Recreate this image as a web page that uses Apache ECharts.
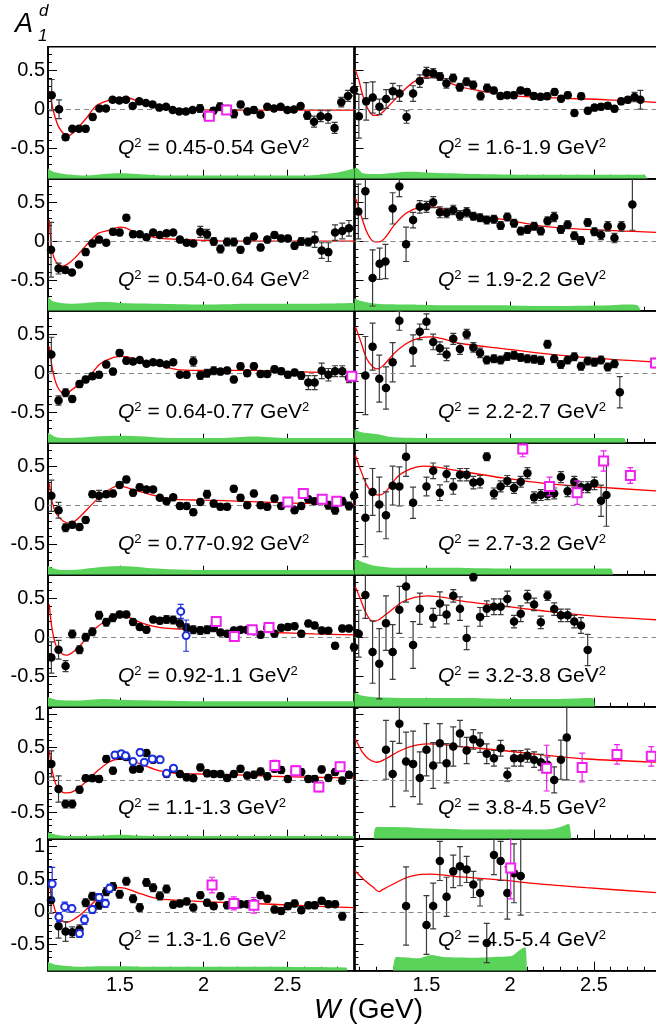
<!DOCTYPE html>
<html>
<head>
<meta charset="utf-8">
<script src="https://cdn.jsdelivr.net/npm/echarts@6/dist/echarts.min.js"></script>
<style>
html, body { margin: 0; padding: 0; background: #fff; }
#main { width: 656px; height: 1029px; }
</style>
</head>
<body>
<div id="main"></div>
<script>
// tick positions and labels
var xMinorTicks = [1.1, 1.2, 1.3, 1.4, 1.6, 1.7, 1.8, 1.9, 2.1, 2.2, 2.3, 2.4, 2.6, 2.7, 2.8];
var xMajorTicks = [1.5, 2, 2.5];
var yMinorTicksA = [-0.8, -0.7, -0.6, -0.4, -0.3, -0.2, -0.1, 0.1, 0.2, 0.3, 0.4, 0.6, 0.7];
var yMajorTicksA = [-0.5, 0, 0.5];
var yMinorTicksB = [-0.8, -0.7, -0.6, -0.4, -0.3, -0.2, -0.1, 0.1, 0.2, 0.3, 0.4, 0.6, 0.7, 0.8, 0.9, 1.1];
var yMajorTicksB = [-0.5, 0, 0.5, 1];

var q2Bins = ['0.45-0.54', '1.6-1.9', '0.54-0.64', '1.9-2.2', '0.64-0.77', '2.2-2.7', '0.77-0.92',
              '2.7-3.2', '0.92-1.1', '3.2-3.8', '1.1-1.3', '3.8-4.5', '1.3-1.6', '4.5-5.4'];

// [W, A1, error]  -- this experiment (black dots)
var dataP1 = [[1.092,0.18,0.2],[1.136,0.00,0.12],[1.175,-0.36,0.04],[1.215,-0.25,0.03],[1.255,-0.25,0.03],[1.295,-0.25,0.04],[1.337,-0.10,0.04],[1.377,0.01,0.03],[1.416,0.01,0.03],[1.456,0.12,0.03],[1.496,0.11,0.03],[1.536,0.12,0.03],[1.576,0.04,0.03],[1.615,0.10,0.03],[1.655,0.08,0.03],[1.695,0.06,0.03],[1.735,0.02,0.03],[1.775,0.03,0.03],[1.815,-0.01,0.03],[1.854,-0.03,0.03],[1.894,-0.03,0.03],[1.934,-0.01,0.03],[1.978,0.01,0.05],[2.018,-0.08,0.05],[2.058,-0.02,0.04],[2.097,0.03,0.05],[2.137,0.00,0.05],[2.181,-0.06,0.05],[2.221,0.06,0.04],[2.261,-0.03,0.04],[2.300,-0.01,0.04],[2.340,-0.07,0.03],[2.380,0.03,0.03],[2.420,0.01,0.03],[2.460,0.03,0.03],[2.500,-0.01,0.03],[2.539,-0.005,0.03],[2.579,0.04,0.03],[2.619,-0.08,0.05],[2.659,-0.16,0.07],[2.699,-0.09,0.07],[2.743,-0.10,0.08],[2.782,-0.24,0.07],[2.822,0.09,0.06],[2.862,0.17,0.07],[2.898,0.25,0.08]];
var dataP2 = [[1.096,-0.09,0.28],[1.140,0.10,0.24],[1.179,0.15,0.2],[1.219,0.03,0.1],[1.259,0.13,0.12],[1.299,0.23,0.1],[1.339,0.20,0.1],[1.381,-0.10,0.08],[1.420,0.20,0.1],[1.460,0.36,0.08],[1.500,0.465,0.07],[1.540,0.46,0.06],[1.580,0.42,0.05],[1.619,0.33,0.06],[1.659,0.40,0.05],[1.699,0.28,0.05],[1.739,0.35,0.05],[1.779,0.31,0.05],[1.823,0.17,0.05],[1.862,0.27,0.05],[1.902,0.24,0.04],[1.942,0.17,0.04],[1.982,0.18,0.04],[2.022,0.18,0.04],[2.062,0.24,0.04],[2.101,0.22,0.04],[2.141,0.17,0.04],[2.181,0.16,0.04],[2.221,0.165,0.04],[2.265,0.22,0.04],[2.304,0.135,0.04],[2.344,0.18,0.04],[2.384,-0.05,0.04],[2.424,0.165,0.04],[2.464,-0.02,0.04],[2.504,0.02,0.04],[2.543,0.03,0.04],[2.583,0.045,0.04],[2.623,0.005,0.04],[2.663,0.10,0.04],[2.703,0.12,0.04],[2.743,0.155,0.06],[2.778,0.12,0.12]];
var dataP3 = [[1.088,-0.11,0.35],[1.133,-0.35,0.07],[1.173,-0.37,0.04],[1.213,-0.40,0.03],[1.255,-0.30,0.03],[1.295,-0.14,0.04],[1.335,-0.03,0.04],[1.375,0.02,0.04],[1.418,-0.02,0.03],[1.458,0.12,0.04],[1.498,0.11,0.04],[1.538,0.30,0.04],[1.578,0.09,0.04],[1.618,0.09,0.03],[1.658,0.05,0.03],[1.698,0.11,0.03],[1.738,0.08,0.03],[1.778,0.10,0.03],[1.818,0.11,0.03],[1.858,0.02,0.03],[1.898,-0.02,0.03],[1.938,-0.03,0.03],[1.980,0.12,0.07],[2.020,0.09,0.06],[2.060,-0.005,0.05],[2.100,-0.10,0.05],[2.140,-0.01,0.05],[2.180,-0.01,0.05],[2.220,-0.11,0.04],[2.260,0.005,0.04],[2.300,0.06,0.04],[2.340,-0.08,0.04],[2.380,0.02,0.04],[2.423,0.08,0.04],[2.463,0.035,0.04],[2.503,0.035,0.04],[2.543,-0.06,0.04],[2.583,-0.005,0.05],[2.625,-0.01,0.05],[2.663,0.02,0.1],[2.705,-0.12,0.1],[2.745,-0.14,0.12],[2.785,0.11,0.1],[2.828,0.13,0.1],[2.868,0.165,0.1]];
var dataP4 = [[1.093,0.38,0.35],[1.135,0.64,0.35],[1.178,-0.47,0.36],[1.22,-0.29,0.2],[1.255,-0.26,0.22],[1.298,0.42,0.2],[1.338,0.70,0.13],[1.378,-0.04,0.22],[1.42,0.27,0.1],[1.46,0.44,0.08],[1.50,0.44,0.07],[1.54,0.50,0.07],[1.58,0.37,0.07],[1.62,0.36,0.06],[1.66,0.40,0.06],[1.70,0.33,0.06],[1.74,0.37,0.06],[1.78,0.32,0.05],[1.82,0.30,0.05],[1.86,0.27,0.05],[1.903,0.28,0.05],[1.943,0.20,0.05],[1.983,0.31,0.05],[2.023,0.23,0.05],[2.063,0.13,0.05],[2.103,0.15,0.05],[2.143,0.19,0.05],[2.183,0.13,0.05],[2.223,0.26,0.05],[2.263,0.31,0.06],[2.303,0.15,0.05],[2.343,0.21,0.05],[2.383,0.07,0.05],[2.423,0.01,0.05],[2.463,0.24,0.05],[2.503,0.12,0.05],[2.543,0.08,0.06],[2.583,0.19,0.06],[2.623,0.04,0.06],[2.665,0.19,0.06],[2.73,0.47,0.33]];
var dataP5 = [[1.09,0.24,0.22],[1.133,-0.35,0.06],[1.175,-0.25,0.05],[1.215,-0.33,0.04],[1.258,-0.14,0.04],[1.295,-0.08,0.04],[1.335,-0.04,0.04],[1.375,-0.02,0.04],[1.418,0.11,0.04],[1.458,0.02,0.04],[1.498,0.26,0.04],[1.538,0.16,0.04],[1.578,0.15,0.03],[1.618,0.17,0.03],[1.658,0.12,0.03],[1.698,0.14,0.03],[1.738,0.13,0.03],[1.778,0.11,0.03],[1.818,0.14,0.03],[1.858,-0.02,0.03],[1.898,-0.02,0.04],[1.938,0.15,0.06],[1.98,-0.03,0.05],[2.02,0.0,0.05],[2.06,0.03,0.05],[2.10,0.02,0.04],[2.14,0.035,0.04],[2.18,-0.08,0.04],[2.22,0.09,0.04],[2.26,0.0,0.04],[2.30,0.09,0.04],[2.34,-0.01,0.04],[2.38,-0.01,0.04],[2.423,0.05,0.04],[2.463,0.025,0.04],[2.503,-0.02,0.04],[2.543,0.01,0.04],[2.583,-0.03,0.05],[2.625,-0.12,0.09],[2.663,-0.12,0.09],[2.705,0.03,0.1],[2.745,-0.02,0.08],[2.785,0.025,0.07],[2.828,0.025,0.07],[2.868,-0.06,0.06]];
var dataP6 = [[1.135,-0.03,0.5],[1.178,0.34,0.3],[1.218,-0.07,0.3],[1.258,-0.19,0.27],[1.298,0.14,0.25],[1.338,0.67,0.12],[1.42,0.29,0.2],[1.46,0.53,0.1],[1.50,0.66,0.1],[1.54,0.40,0.1],[1.58,0.32,0.08],[1.62,0.24,0.08],[1.66,0.44,0.07],[1.70,0.31,0.07],[1.74,0.50,0.06],[1.78,0.33,0.06],[1.82,0.26,0.06],[1.86,0.17,0.05],[1.903,0.185,0.05],[1.943,0.17,0.05],[1.983,0.215,0.05],[2.023,0.23,0.05],[2.063,0.20,0.05],[2.103,0.185,0.05],[2.143,0.177,0.05],[2.183,0.164,0.05],[2.223,0.37,0.05],[2.263,0.185,0.05],[2.303,0.11,0.05],[2.343,0.17,0.05],[2.383,0.21,0.05],[2.423,0.09,0.05],[2.463,0.155,0.05],[2.503,0.14,0.05],[2.543,0.17,0.05],[2.583,0.08,0.05],[2.623,0.12,0.05],[2.655,-0.245,0.2]];
var dataP7 = [[1.09,0.12,0.2],[1.133,-0.065,0.1],[1.175,-0.29,0.05],[1.215,-0.25,0.04],[1.258,-0.28,0.04],[1.295,-0.19,0.04],[1.335,0.14,0.04],[1.375,0.12,0.07],[1.418,0.14,0.04],[1.458,0.15,0.04],[1.498,0.26,0.04],[1.538,0.33,0.04],[1.578,0.16,0.04],[1.618,0.23,0.04],[1.658,0.20,0.03],[1.698,0.20,0.03],[1.738,0.095,0.03],[1.778,0.05,0.03],[1.818,0.10,0.03],[1.858,-0.01,0.04],[1.898,-0.01,0.04],[1.938,-0.09,0.04],[1.98,0.04,0.04],[2.02,0.14,0.05],[2.06,0.02,0.04],[2.10,-0.02,0.04],[2.14,-0.02,0.04],[2.18,0.21,0.04],[2.22,0.095,0.04],[2.26,0.0,0.04],[2.30,0.15,0.04],[2.34,0.0,0.04],[2.38,-0.02,0.04],[2.423,0.085,0.04],[2.463,-0.01,0.04],[2.503,0.04,0.04],[2.543,-0.065,0.04],[2.583,-0.01,0.04],[2.625,0.075,0.04],[2.663,0.05,0.04],[2.705,0.075,0.04],[2.745,0.0,0.05],[2.785,-0.065,0.05],[2.828,0.05,0.05],[2.868,-0.01,0.05],[2.898,0.12,0.05]];
var dataP8 = [[1.135,-0.16,0.5],[1.178,0.17,0.3],[1.218,0.01,0.35],[1.258,-0.13,0.3],[1.298,0.25,0.25],[1.338,0.24,0.25],[1.378,0.62,0.25],[1.42,0.03,0.2],[1.50,0.24,0.12],[1.54,0.44,0.1],[1.58,0.16,0.1],[1.62,0.40,0.1],[1.66,0.24,0.1],[1.70,0.39,0.08],[1.74,0.39,0.08],[1.78,0.29,0.08],[1.82,0.30,0.08],[1.86,0.62,0.05],[1.903,0.15,0.07],[1.943,0.24,0.07],[1.983,0.31,0.07],[2.023,0.22,0.07],[2.063,0.30,0.07],[2.103,0.41,0.07],[2.143,0.10,0.07],[2.183,0.13,0.07],[2.223,0.14,0.07],[2.263,0.15,0.07],[2.303,0.36,0.07],[2.343,0.18,0.07],[2.383,0.30,0.07],[2.423,0.23,0.07],[2.463,0.23,0.07],[2.503,0.28,0.08],[2.543,0.056,0.2],[2.575,0.13,0.4]];
var dataP9 = [[1.09,-0.26,0.2],[1.133,-0.16,0.12],[1.175,-0.37,0.07],[1.215,0.04,0.05],[1.258,-0.16,0.05],[1.295,0.0,0.05],[1.335,0.07,0.05],[1.375,0.28,0.05],[1.418,0.19,0.05],[1.458,0.25,0.05],[1.498,0.29,0.04],[1.538,0.29,0.04],[1.578,0.195,0.04],[1.618,0.13,0.04],[1.658,0.095,0.04],[1.698,0.225,0.04],[1.738,0.21,0.04],[1.778,0.225,0.05],[1.818,0.22,0.05],[1.858,0.175,0.06],[1.898,0.12,0.05],[1.938,0.095,0.05],[1.98,0.087,0.05],[2.02,0.095,0.05],[2.06,0.12,0.05],[2.10,0.06,0.04],[2.14,0.045,0.04],[2.18,0.087,0.04],[2.22,0.095,0.04],[2.26,0.095,0.04],[2.30,0.075,0.04],[2.34,0.03,0.04],[2.38,0.12,0.04],[2.423,0.045,0.04],[2.463,0.12,0.04],[2.503,0.13,0.04],[2.543,0.14,0.04],[2.583,0.045,0.04],[2.625,0.175,0.04],[2.663,0.15,0.04],[2.705,0.087,0.04],[2.745,0.083,0.04],[2.785,-0.11,0.04],[2.828,0.11,0.04],[2.868,0.11,0.04],[2.898,-0.13,0.05]];
var dataP10 = [[1.095,0.045,0.3],[1.135,0.54,0.3],[1.178,-0.19,0.4],[1.218,-0.34,0.45],[1.258,0.18,0.35],[1.298,-0.19,0.35],[1.338,0.35,0.3],[1.378,0.65,0.2],[1.42,-0.10,0.3],[1.46,0.365,0.2],[1.54,0.25,0.12],[1.58,0.43,0.15],[1.62,0.29,0.12],[1.66,0.53,0.08],[1.70,0.365,0.15],[1.74,-0.01,0.15],[1.78,0.77,0.05],[1.82,0.26,0.12],[1.86,0.365,0.1],[1.903,0.39,0.1],[1.943,0.39,0.1],[1.983,0.49,0.1],[2.023,0.20,0.08],[2.063,0.30,0.1],[2.103,0.52,0.08],[2.143,0.42,0.08],[2.183,0.19,0.08],[2.223,0.53,0.06],[2.263,0.36,0.08],[2.303,0.28,0.08],[2.343,0.28,0.08],[2.383,0.20,0.08],[2.423,0.15,0.1],[2.463,-0.165,0.2]];
var dataP11 = [[1.09,0.245,0.2],[1.133,-0.14,0.2],[1.175,-0.37,0.06],[1.215,-0.37,0.06],[1.258,-0.15,0.05],[1.295,0.025,0.05],[1.335,0.025,0.05],[1.375,0.015,0.05],[1.418,0.32,0.05],[1.458,0.14,0.05],[1.498,0.37,0.05],[1.538,0.35,0.05],[1.578,0.16,0.05],[1.618,0.17,0.05],[1.658,0.41,0.05],[1.698,0.31,0.05],[1.738,0.31,0.05],[1.778,0.09,0.05],[1.818,0.17,0.05],[1.858,0.09,0.05],[1.898,0.04,0.05],[1.938,0.025,0.05],[1.98,0.19,0.05],[2.02,0.10,0.05],[2.06,0.09,0.05],[2.10,0.09,0.05],[2.14,0.03,0.05],[2.18,0.09,0.05],[2.22,0.17,0.05],[2.26,0.066,0.05],[2.30,0.08,0.05],[2.34,0.13,0.05],[2.38,0.056,0.05],[2.423,0.17,0.05],[2.463,0.15,0.05],[2.503,0.015,0.05],[2.543,0.13,0.05],[2.583,0.12,0.05],[2.625,0.015,0.05],[2.663,0.015,0.05],[2.705,0.16,0.05],[2.745,0.03,0.05],[2.785,0.12,0.05],[2.828,-0.01,0.05],[2.868,0.077,0.05]];
var dataP12 = [[1.258,0.46,0.45],[1.298,0.09,0.5],[1.338,0.86,0.3],[1.378,0.28,0.45],[1.42,0.245,0.5],[1.46,0.03,0.4],[1.50,0.46,0.4],[1.54,0.22,0.35],[1.58,0.56,0.3],[1.62,0.255,0.3],[1.66,0.51,0.3],[1.70,0.71,0.2],[1.74,0.45,0.2],[1.78,0.62,0.15],[1.82,0.57,0.15],[1.86,0.40,0.15],[1.903,0.33,0.12],[1.943,0.485,0.12],[1.983,0.08,0.1],[2.023,0.33,0.12],[2.063,0.33,0.12],[2.103,0.37,0.1],[2.143,0.31,0.12],[2.183,0.27,0.12],[2.223,0.23,0.12],[2.263,0.0,0.2],[2.303,0.31,0.3],[2.338,0.65,0.65]];
var dataP13 = [[1.088,0.18,0.2],[1.133,-0.22,0.18],[1.175,-0.30,0.15],[1.215,-0.31,0.08],[1.258,-0.27,0.07],[1.295,0.14,0.06],[1.335,0.24,0.06],[1.375,0.10,0.06],[1.418,0.31,0.06],[1.458,0.39,0.06],[1.498,0.27,0.06],[1.538,0.47,0.06],[1.578,0.20,0.06],[1.618,0.066,0.06],[1.658,0.45,0.06],[1.698,0.37,0.06],[1.738,0.245,0.06],[1.778,0.35,0.06],[1.818,0.11,0.05],[1.858,0.13,0.05],[1.898,0.16,0.05],[1.938,0.066,0.05],[1.98,0.255,0.05],[2.02,0.14,0.05],[2.06,0.087,0.05],[2.10,0.24,0.05],[2.14,0.10,0.05],[2.18,0.117,0.05],[2.22,0.117,0.05],[2.26,0.117,0.05],[2.30,0.13,0.05],[2.34,0.255,0.05],[2.38,0.20,0.05],[2.423,0.036,0.05],[2.463,0.015,0.05],[2.503,0.087,0.05],[2.543,0.13,0.05],[2.583,0.026,0.05],[2.625,0.10,0.05],[2.663,0.10,0.05],[2.705,0.17,0.05],[2.745,0.117,0.05],[2.785,0.117,0.05],[2.828,-0.066,0.06]];
var dataP14 = [[1.378,0.09,0.6],[1.50,-0.20,0.45],[1.54,0.09,0.35],[1.58,0.78,0.3],[1.62,0.23,0.3],[1.66,0.62,0.25],[1.70,0.70,0.3],[1.74,0.65,0.2],[1.78,0.42,0.2],[1.82,0.29,0.2],[1.86,-0.475,0.3],[1.903,0.87,0.3],[1.943,0.78,0.3],[1.983,0.29,0.4],[2.023,0.59,0.45],[2.063,0.55,0.6]];

// other data sets: open squares (magenta), open circles (blue)
var magP1 = [[2.034,-0.09,0.05],[2.137,-0.01,0.05]];
var magP5 = [[2.885,-0.04,0.05]];
var magP6 = [[2.868,0.13,0.06]];
var magP7 = [[2.503,0.04,0.04],[2.595,0.15,0.05],[2.708,0.075,0.04],[2.795,0.05,0.04]];
var magP8 = [[2.075,0.72,0.1],[2.235,0.24,0.12],[2.40,0.16,0.15],[2.558,0.565,0.13],[2.718,0.38,0.1]];
var magP9 = [[2.075,0.20,0.04],[2.183,0.01,0.04],[2.29,0.095,0.04],[2.39,0.125,0.04]];
var magP11 = [[2.425,0.22,0.08],[2.55,0.14,0.08],[2.688,-0.11,0.07],[2.815,0.20,0.06]];
var magP12 = [[2.218,0.18,0.35],[2.43,0.19,0.22],[2.638,0.39,0.15],[2.843,0.36,0.15]];
var magP13 = [[2.05,0.41,0.12],[2.18,0.13,0.1],[2.30,0.10,0.12]];
var magP14 = [[2.003,0.67,0.47]];
var blueP9 = [[1.863,0.33,0.09],[1.895,0.02,0.2]];
var blueP11 = [[1.47,0.38,0.05],[1.508,0.40,0.05],[1.533,0.37,0.05],[1.578,0.28,0.04],[1.62,0.42,0.05],[1.645,0.27,0.04],[1.693,0.32,0.04],[1.74,0.31,0.04],[1.778,0.10,0.04],[1.82,0.18,0.04]];
var blueP13 = [[1.095,0.43,0.25],[1.135,-0.08,0.07],[1.17,0.08,0.07],[1.213,0.05,0.05],[1.258,-0.33,0.06],[1.288,-0.12,0.07],[1.335,0.036,0.06],[1.375,0.22,0.06],[1.413,0.13,0.06],[1.438,0.36,0.06]];

// model curves (red)
var fitP1 = [[1.078,0.23],[1.102,-0.02],[1.132,-0.22],[1.171,-0.33],[1.191,-0.34],[1.231,-0.28],[1.301,-0.11],[1.361,0.05],[1.460,0.13],[1.520,0.15],[1.560,0.14],[1.619,0.09],[1.699,0.04],[1.819,0.01],[1.978,-0.01],[2.177,-0.013],[2.376,-0.013],[2.898,-0.013]];
var fitP2 = [[1.074,0.51],[1.096,0.37],[1.116,0.20],[1.146,0.02],[1.185,-0.08],[1.215,-0.074],[1.265,0.02],[1.345,0.20],[1.424,0.35],[1.504,0.41],[1.564,0.40],[1.683,0.30],[1.783,0.25],[1.982,0.18],[2.181,0.15],[2.579,0.12],[2.898,0.085]];
var fitP3 = [[1.0775,0.27],[1.095,-0.12],[1.12,-0.27],[1.158,-0.32],[1.183,-0.30],[1.233,-0.21],[1.295,-0.06],[1.37,0.10],[1.433,0.14],[1.5,0.18],[1.533,0.17],[1.608,0.10],[1.733,0.04],[1.908,0.02],[2.158,0.0],[2.898,0.0]];
var fitP4 = [[1.075,0.55],[1.08,0.53],[1.105,0.36],[1.143,0.12],[1.18,0.0],[1.218,-0.01],[1.255,0.05],[1.305,0.20],[1.38,0.36],[1.455,0.43],[1.53,0.44],[1.705,0.36],[1.955,0.28],[2.205,0.19],[2.455,0.15],[2.898,0.11]];
var fitP5 = [[1.0775,0.34],[1.1025,-0.01],[1.1325,-0.20],[1.17,-0.27],[1.2075,-0.22],[1.2575,-0.14],[1.32,-0.03],[1.3825,0.12],[1.4575,0.20],[1.52,0.215],[1.6075,0.17],[1.7325,0.10],[1.8575,0.043],[2.0325,0.035],[2.2825,0.035],[2.5325,0.02],[2.898,0.0]];
var fitP6 = [[1.075,0.59],[1.08,0.57],[1.105,0.42],[1.143,0.185],[1.18,0.08],[1.205,0.056],[1.243,0.10],[1.305,0.25],[1.38,0.38],[1.455,0.45],[1.53,0.465],[1.705,0.38],[1.955,0.315],[2.205,0.25],[2.455,0.20],[2.898,0.14]];
var fitP7 = [[1.0775,0.28],[1.095,0.04],[1.12,-0.11],[1.158,-0.20],[1.195,-0.23],[1.233,-0.20],[1.283,-0.10],[1.358,0.065],[1.433,0.195],[1.495,0.25],[1.533,0.23],[1.608,0.18],[1.733,0.11],[1.833,0.074],[1.983,0.065],[2.158,0.056],[2.408,0.035],[2.658,0.02],[2.898,0.013]];
var fitP8 = [[1.075,0.64],[1.08,0.61],[1.105,0.46],[1.143,0.26],[1.18,0.15],[1.218,0.13],[1.255,0.17],[1.33,0.37],[1.405,0.465],[1.48,0.50],[1.555,0.49],[1.705,0.435],[1.955,0.35],[2.205,0.28],[2.455,0.24],[2.898,0.18]];
var fitP9 = [[1.0775,0.42],[1.095,0.096],[1.12,-0.12],[1.158,-0.22],[1.183,-0.23],[1.233,-0.165],[1.283,-0.057],[1.358,0.12],[1.433,0.226],[1.508,0.27],[1.558,0.25],[1.633,0.18],[1.733,0.126],[1.908,0.096],[2.158,0.083],[2.408,0.06],[2.658,0.043],[2.898,0.03]];
var fitP10 = [[1.075,0.64],[1.08,0.62],[1.105,0.49],[1.143,0.29],[1.18,0.20],[1.218,0.226],[1.28,0.33],[1.355,0.45],[1.43,0.51],[1.505,0.53],[1.605,0.51],[1.705,0.465],[1.955,0.40],[2.205,0.335],[2.455,0.28],[2.898,0.22]];
var fitP11 = [[1.0775,0.45],[1.095,0.14],[1.12,-0.087],[1.158,-0.19],[1.188,-0.20],[1.233,-0.16],[1.283,-0.06],[1.358,0.12],[1.433,0.27],[1.495,0.32],[1.558,0.30],[1.633,0.235],[1.733,0.14],[1.833,0.10],[1.983,0.09],[2.158,0.08],[2.408,0.056],[2.658,0.04],[2.898,0.03]];
var fitP12 = [[1.075,0.62],[1.08,0.60],[1.118,0.42],[1.155,0.32],[1.205,0.27],[1.255,0.32],[1.33,0.43],[1.405,0.51],[1.505,0.55],[1.605,0.54],[1.705,0.51],[1.955,0.45],[2.205,0.38],[2.455,0.32],[2.898,0.27]];
var fitP13 = [[1.0775,0.43],[1.095,0.20],[1.12,-0.026],[1.158,-0.14],[1.183,-0.16],[1.233,-0.10],[1.283,0.0],[1.358,0.18],[1.433,0.31],[1.495,0.37],[1.533,0.36],[1.633,0.27],[1.733,0.20],[1.908,0.17],[2.158,0.14],[2.408,0.117],[2.658,0.087],[2.898,0.066]];
var fitP14 = [[1.075,0.63],[1.08,0.61],[1.13,0.485],[1.18,0.38],[1.218,0.31],[1.23,0.33],[1.305,0.43],[1.38,0.525],[1.455,0.57],[1.53,0.577],[1.705,0.535],[1.955,0.485],[2.205,0.42],[2.455,0.37],[2.898,0.29]];

// systematic error bands (green), top edge
var sysP1 = [[1.07,-0.76],[1.10,-0.80],[1.2,-0.84],[1.3,-0.85],[1.4,-0.83],[1.5,-0.82],[1.6,-0.83],[1.8,-0.85],[2.2,-0.85],[2.6,-0.85],[2.8,-0.81],[2.898,-0.76]];
var sysP2 = [[1.07,-0.75],[1.09,-0.76],[1.12,-0.82],[1.2,-0.83],[1.4,-0.80],[1.5,-0.81],[1.8,-0.83],[2.2,-0.84],[2.6,-0.84],[2.8,-0.84],[2.82,-0.89]];
var sysP3 = [[1.07,-0.71],[1.1,-0.77],[1.2,-0.80],[1.3,-0.79],[1.4,-0.78],[1.5,-0.79],[1.7,-0.80],[2.0,-0.81],[2.3,-0.80],[2.6,-0.80],[2.898,-0.79]];
var sysP4 = [[1.07,-0.73],[1.1,-0.76],[1.2,-0.80],[1.4,-0.81],[1.6,-0.82],[1.9,-0.82],[2.2,-0.83],[2.6,-0.82],[2.7,-0.81],[2.76,-0.82],[2.78,-0.89]];
var sysP5 = [[1.07,-0.76],[1.12,-0.82],[1.2,-0.83],[1.35,-0.81],[1.5,-0.80],[1.65,-0.81],[1.8,-0.83],[2.1,-0.83],[2.3,-0.81],[2.5,-0.83],[2.898,-0.83]];
var sysP6 = [[1.07,-0.72],[1.12,-0.76],[1.2,-0.78],[1.3,-0.82],[1.6,-0.83],[2.0,-0.83],[2.4,-0.83],[2.68,-0.83],[2.69,-0.89]];
var sysP7 = [[1.07,-0.78],[1.12,-0.82],[1.2,-0.83],[1.35,-0.80],[1.5,-0.78],[1.65,-0.80],[1.8,-0.82],[2.0,-0.83],[2.898,-0.83]];
var sysP8 = [[1.07,-0.69],[1.12,-0.73],[1.2,-0.78],[1.3,-0.80],[1.6,-0.80],[2.0,-0.81],[2.4,-0.81],[2.6,-0.81],[2.615,-0.89]];
var sysP9 = [[1.07,-0.77],[1.12,-0.80],[1.25,-0.81],[1.4,-0.79],[1.5,-0.80],[1.7,-0.81],[2.0,-0.82],[2.898,-0.82]];
var sysP10 = [[1.07,-0.71],[1.12,-0.75],[1.2,-0.77],[1.4,-0.78],[1.7,-0.78],[2.0,-0.79],[2.3,-0.79],[2.49,-0.78],[2.505,-0.89]];
var sysP11 = [[1.07,-0.80],[1.12,-0.84],[1.2,-0.86],[1.4,-0.85],[1.5,-0.84],[1.7,-0.86],[2.0,-0.86],[2.898,-0.86]];
var sysP12 = [[1.185,-0.9],[1.2,-0.72],[1.3,-0.72],[1.5,-0.74],[1.8,-0.76],[2.1,-0.76],[2.25,-0.75],[2.32,-0.70],[2.35,-0.67],[2.365,-0.9]];
var sysP13 = [[1.07,-0.765],[1.12,-0.81],[1.25,-0.84],[1.4,-0.83],[1.5,-0.83],[1.7,-0.84],[2.0,-0.84],[2.85,-0.85],[2.86,-0.9]];
var sysP14 = [[1.30,-0.9],[1.32,-0.69],[1.4,-0.70],[1.45,-0.71],[1.53,-0.66],[1.6,-0.69],[1.8,-0.70],[1.9,-0.69],[2.0,-0.68],[2.07,-0.56],[2.09,-0.54],[2.10,-0.9]];

var FONT = '"Liberation Sans", Arial, Helvetica, sans-serif';
var GREEN = '#5ad35a';
var MAGENTA = '#f020f0';
var BLUE = '#1c2fe0';

var panels = [
    {pts: dataP1, mag: magP1, fit: fitP1, sys: sysP1},
    {pts: dataP2, fit: fitP2, sys: sysP2},
    {pts: dataP3, fit: fitP3, sys: sysP3},
    {pts: dataP4, fit: fitP4, sys: sysP4},
    {pts: dataP5, mag: magP5, fit: fitP5, sys: sysP5},
    {pts: dataP6, mag: magP6, fit: fitP6, sys: sysP6},
    {pts: dataP7, mag: magP7, fit: fitP7, sys: sysP7},
    {pts: dataP8, mag: magP8, fit: fitP8, sys: sysP8},
    {pts: dataP9, mag: magP9, blue: blueP9, fit: fitP9, sys: sysP9},
    {pts: dataP10, fit: fitP10, sys: sysP10},
    {pts: dataP11, mag: magP11, blue: blueP11, fit: fitP11, sys: sysP11},
    {pts: dataP12, mag: magP12, fit: fitP12, sys: sysP12},
    {pts: dataP13, mag: magP13, blue: blueP13, fit: fitP13, sys: sysP13},
    {pts: dataP14, mag: magP14, fit: fitP14, sys: sysP14}
];

function errorBars(color) {
    return function (params, api) {
        var x = api.value(0), y = api.value(1), e = api.value(2);
        var hi = api.coord([x, y + e]);
        var lo = api.coord([x, y - e]);
        var s = {stroke: color, lineWidth: 1.2};
        return {
            type: 'group',
            children: [
                {type: 'line', shape: {x1: hi[0], y1: hi[1], x2: lo[0], y2: lo[1]}, style: s},
                {type: 'line', shape: {x1: hi[0] - 3, y1: hi[1], x2: hi[0] + 3, y2: hi[1]}, style: s},
                {type: 'line', shape: {x1: lo[0] - 3, y1: lo[1], x2: lo[0] + 3, y2: lo[1]}, style: s}
            ]
        };
    };
}

var grids = [], xAxes = [], yAxes = [], series = [], graphics = [];
var ROW_H = 132, TOP0 = 46.7;

panels.forEach(function (p, i) {
    var row = Math.floor(i / 2), col = i % 2;
    var tall = row >= 5;
    var top = TOP0 + row * ROW_H;
    grids.push({
        left: col ? 354.5 : 48, top: top, width: 306, height: ROW_H,
        show: true, borderColor: '#000', borderWidth: 1.6, containLabel: false, outerBoundsMode: 'none'
    });
    var ymin = tall ? -0.90 : -0.89, ymax = tall ? 1.12 : 0.80;
    // main axes (line, minor ticks, labels)
    xAxes.push({
        type: 'value', gridIndex: i, min: 1.07, max: 2.898, position: 'bottom',
        axisLine: {show: true, onZero: false, lineStyle: {color: '#000', width: 1.6}},
        axisTick: {show: true, inside: true, length: 4, customValues: xMinorTicks, lineStyle: {color: '#000', width: 1}},
        axisLabel: {show: row === 6, customValues: xMajorTicks, fontSize: 20, fontFamily: FONT, color: '#000', margin: 5},
        splitLine: {show: false}
    });
    // major ticks only
    xAxes.push({
        type: 'value', gridIndex: i, min: 1.07, max: 2.898, position: 'bottom',
        axisLine: {show: false, onZero: false},
        axisTick: {show: true, inside: true, length: 9, customValues: xMajorTicks, lineStyle: {color: '#000', width: 1}},
        axisLabel: {show: false}, splitLine: {show: false}
    });
    yAxes.push({
        type: 'value', gridIndex: i, min: ymin, max: ymax, position: 'left',
        axisLine: {show: true, onZero: false, lineStyle: {color: '#000', width: 1.6}},
        axisTick: {show: true, inside: true, length: 4, customValues: tall ? yMinorTicksB : yMinorTicksA, lineStyle: {color: '#000', width: 1}},
        axisLabel: {show: col === 0, customValues: tall ? yMajorTicksB : yMajorTicksA, fontSize: 20, fontFamily: FONT, color: '#000', margin: 3},
        splitLine: {show: false}
    });
    yAxes.push({
        type: 'value', gridIndex: i, min: ymin, max: ymax, position: 'left',
        axisLine: {show: false, onZero: false},
        axisTick: {show: true, inside: true, length: 9, customValues: tall ? yMajorTicksB : yMajorTicksA, lineStyle: {color: '#000', width: 1}},
        axisLabel: {show: false}, splitLine: {show: false}
    });

    var ax = {xAxisIndex: 2 * i, yAxisIndex: 2 * i};
    series.push(Object.assign({
        type: 'line', data: p.sys, symbol: 'none', smooth: 0.3, silent: true, z: 1,
        lineStyle: {width: 0}, areaStyle: {origin: 'start', color: GREEN, opacity: 1},
        markLine: {
            silent: true, symbol: ['none', 'none'], label: {show: false}, animation: false,
            lineStyle: {color: '#888', type: [5, 4], width: 1.2}, data: [{yAxis: 0}]
        }
    }, ax));
    series.push(Object.assign({
        type: 'line', data: p.fit, symbol: 'none', smooth: 0.3, silent: true, z: 3,
        lineStyle: {color: '#ff0000', width: 1.3}
    }, ax));
    series.push(Object.assign({type: 'custom', renderItem: errorBars('#3a3a3a'), data: p.pts, clip: true, z: 4, encode: {x: 0, y: 1}}, ax));
    series.push(Object.assign({type: 'scatter', data: p.pts, symbol: 'circle', symbolSize: 8.5, clip: true, z: 5, itemStyle: {color: '#000', opacity: 1}}, ax));
    if (p.blue) {
        series.push(Object.assign({type: 'custom', renderItem: errorBars(BLUE), data: p.blue, clip: true, z: 6, encode: {x: 0, y: 1}}, ax));
        series.push(Object.assign({type: 'scatter', data: p.blue, symbol: 'emptyCircle', symbolSize: 7, clip: true, z: 7, itemStyle: {color: BLUE, borderWidth: 1.3, opacity: 1}}, ax));
    }
    if (p.mag) {
        series.push(Object.assign({type: 'custom', renderItem: errorBars(MAGENTA), data: p.mag, clip: true, z: 6, encode: {x: 0, y: 1}}, ax));
        series.push(Object.assign({type: 'scatter', data: p.mag, symbol: 'emptyRect', symbolSize: 9, clip: true, z: 7, itemStyle: {color: MAGENTA, borderWidth: 1.3, opacity: 1}}, ax));
    }

    graphics.push({
        type: 'text', x: col ? 438 : 118, y: top + 101, z: 20,
        style: {
            text: '{q|Q}{s|2}{t| = ' + q2Bins[i] + ' GeV}{s|2}',
            fill: '#000', align: 'left', verticalAlign: 'middle',
            font: '21px ' + FONT,
            rich: {
                q: {fontStyle: 'italic', fontSize: 21, fontFamily: FONT, fill: '#000', verticalAlign: 'bottom', lineHeight: 22},
                t: {fontSize: 21, fontFamily: FONT, fill: '#000', verticalAlign: 'bottom', lineHeight: 22},
                s: {fontSize: 13, fontFamily: FONT, fill: '#000', verticalAlign: 'top', lineHeight: 13}
            }
        }
    });
});

// y title A_1^d and x title
graphics.push({type: 'text', x: 15, y: 24, style: {text: 'A', font: 'italic 27px ' + FONT, fill: '#000', verticalAlign: 'middle'}});
graphics.push({type: 'text', x: 39, y: 11, style: {text: 'd', font: 'italic 17px ' + FONT, fill: '#000', verticalAlign: 'middle'}});
graphics.push({type: 'text', x: 38, y: 36, style: {text: '1', font: 'italic 17px ' + FONT, fill: '#000', verticalAlign: 'middle'}});
graphics.push({
    type: 'text', x: 423, y: 1010, style: {
        text: '{w|W} (GeV)', align: 'right', verticalAlign: 'middle', fill: '#000', font: '28px ' + FONT,
        rich: {w: {fontStyle: 'italic', fontSize: 28, fontFamily: FONT, fill: '#000'}}
    }
});

var chart = echarts.init(document.getElementById('main'));
chart.setOption({
    animation: false,
    backgroundColor: '#fff',
    grid: grids,
    xAxis: xAxes,
    yAxis: yAxes,
    series: series,
    graphic: graphics
});
</script>
</body>
</html>
